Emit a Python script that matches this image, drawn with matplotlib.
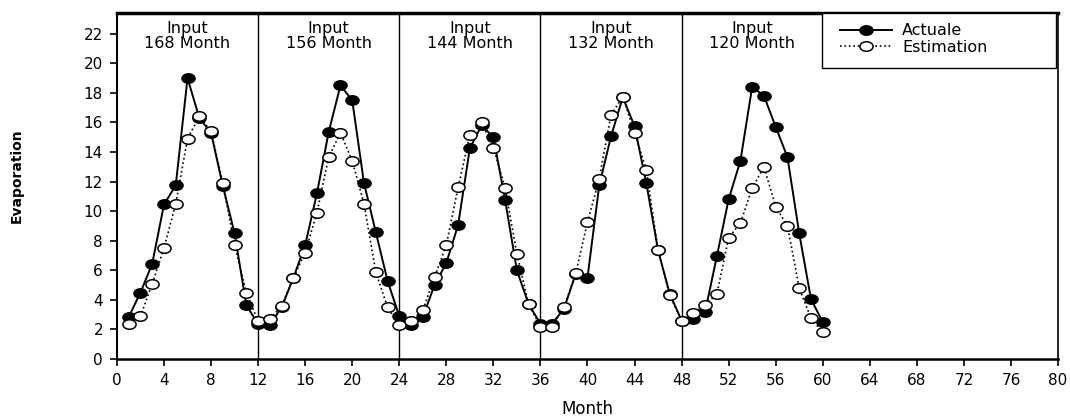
import numpy as np
import matplotlib
matplotlib.use("Agg")
from matplotlib import pyplot as plt
from matplotlib.path import Path
from matplotlib.patches import Rectangle
from matplotlib.transforms import Affine2D

plt.rcParams['font.family'] = ['DejaVu Sans']

months = np.arange(1, 61)

actual = [2.85, 4.5, 6.45, 10.45, 11.75, 19.0, 16.3, 15.3, 11.7, 8.5, 3.65, 2.35,
          2.3, 3.5, 5.5, 7.7, 11.2, 15.35, 18.5, 17.5, 11.9, 8.6, 5.3, 2.9,
          2.3, 2.85, 5.0, 6.5, 9.05, 14.25, 15.8, 15.0, 10.75, 6.0, 3.7, 2.4,
          2.4, 3.4, 5.75, 5.5, 11.75, 15.05, 17.7, 15.75, 11.9, 7.35, 4.4, 2.6,
          2.7, 3.2, 6.95, 10.8, 13.4, 18.4, 17.8, 15.7, 13.65, 8.5, 4.05, 2.5]

estimation = [2.4, 2.9, 5.1, 7.5, 10.5, 14.9, 16.4, 15.4, 11.9, 7.7, 4.5, 2.55,
              2.7, 3.6, 5.5, 7.2, 9.9, 13.65, 15.3, 13.4, 10.5, 5.9, 3.5, 2.3,
              2.6, 3.3, 5.55, 7.7, 11.6, 15.15, 16.0, 14.3, 11.55, 7.1, 3.7, 2.2,
              2.2, 3.5, 5.8, 9.25, 12.2, 16.5, 17.75, 15.3, 12.8, 7.35, 4.3, 2.6,
              3.1, 3.65, 4.4, 8.2, 9.2, 11.55, 13.0, 10.3, 9.0, 4.8, 2.75, 1.8]

inputs = [168, 156, 144, 132, 120]
separators = [12, 24, 36, 48]

# slightly flattened circle, like the original export
ellipse = Path.unit_circle().transformed(Affine2D().scale(1.0, 0.72))

fig = plt.figure(figsize=(10.7, 4.18), dpi=100)
ax = fig.add_axes([0.1093, 0.141, 0.8795, 0.828])

ax.plot(months, actual, '-', color='black', lw=1.4, marker=ellipse,
        ms=9.5, mfc='black', mec='black', label='Actuale', zorder=3)
ax.plot(months, estimation, ':', color='black', lw=1.2, marker=ellipse,
        ms=9.5, mfc='white', mec='black', mew=1.1, label='Estimation', zorder=4)

for s in separators:
    ax.axvline(s, color='black', lw=1.0, zorder=1)

for i, n in enumerate(inputs):
    ax.text(12 * i + 6, 22.85, 'Input\n%d Month' % n, ha='center', va='top',
            fontsize=11.5, linespacing=1.0)

ax.set_xlim(0, 80)
ax.set_ylim(0, 23.4)
ax.set_xticks(np.arange(0, 81, 4))
ax.set_yticks(np.arange(0, 23, 2))
ax.tick_params(direction='out', length=5, width=1.2, labelsize=11, pad=5)

ax.spines['top'].set_linewidth(2.5)
ax.spines['left'].set_linewidth(1.5)
ax.spines['bottom'].set_linewidth(1.8)
ax.spines['right'].set_linewidth(1.2)

ax.set_xlabel('Month', fontsize=12)
ax.xaxis.set_label_coords(0.5, -0.118)
ax.set_ylabel('Evaporation', fontsize=10, fontweight='bold')
ax.yaxis.set_label_coords(-0.099, 0.53)

# legend box drawn separately so it can span the same width as the original
ax.add_patch(Rectangle((0.749, 0.841), 0.249, 0.159, transform=ax.transAxes,
                       facecolor='white', edgecolor='black', lw=1.0, zorder=5))
leg = ax.legend(loc='upper left', bbox_to_anchor=(0.768, 0.97),
                borderaxespad=0, borderpad=0, frameon=False, fontsize=11.5,
                handlelength=3.3, handletextpad=0.6, labelspacing=0.1)
leg.set_zorder(6)

fig.savefig('out.png', dpi=100)
